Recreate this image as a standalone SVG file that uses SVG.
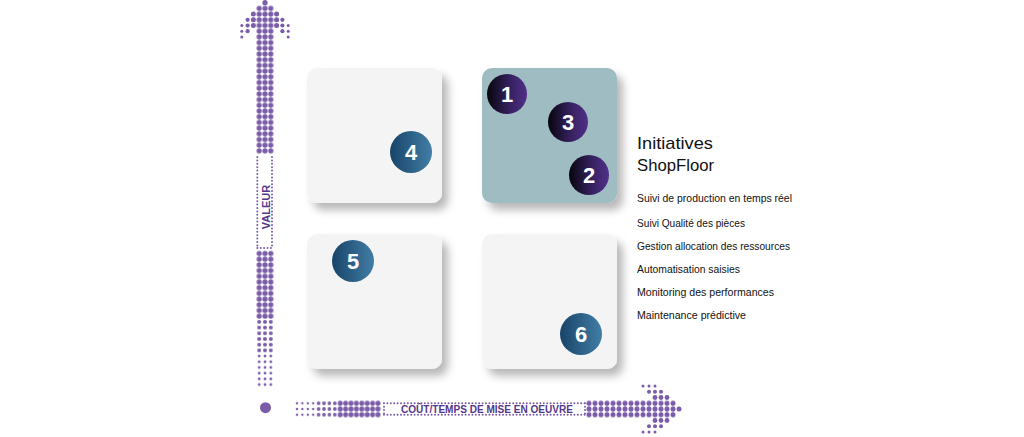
<svg xmlns="http://www.w3.org/2000/svg" width="1024" height="437" viewBox="0 0 1024 437">
<style>
.box{fill:#f4f4f4;filter:url(#sh)}
.num{font-family:"Liberation Sans",Arial,sans-serif;font-weight:bold;font-size:22px;fill:#ffffff;text-anchor:middle}
.title{font-family:"Liberation Sans",Arial,sans-serif;font-size:17px;fill:#111111}
.item{font-family:"Liberation Sans",Arial,sans-serif;font-size:10.5px;fill:#111111}
.axl{font-family:"Liberation Sans",Arial,sans-serif;font-size:11px;font-weight:bold;fill:#54368a}
.d{fill:#7a5ca9}
.dl{fill:none;stroke:#7a5ca9;stroke-width:2;stroke-linecap:round;stroke-dasharray:0 3.4}
</style>
<defs>
<filter id="sh" x="-20%" y="-20%" width="150%" height="150%">
<feDropShadow dx="6" dy="7" stdDeviation="4.5" flood-color="#000" flood-opacity="0.28"/>
</filter>
<linearGradient id="gb" x1="0" y1="0" x2="1" y2="0">
<stop offset="0" stop-color="#184469"/><stop offset="1" stop-color="#427da5"/>
</linearGradient>
<linearGradient id="gp" x1="0" y1="0" x2="1" y2="0">
<stop offset="0" stop-color="#07050c"/><stop offset="0.55" stop-color="#35205e"/><stop offset="1" stop-color="#51308a"/>
</linearGradient>
<pattern id="pv26" patternUnits="userSpaceOnUse" x="256.3" y="5.55" width="5.8" height="5.7"><circle cx="2.9" cy="2.85" r="2.6" class="d"/></pattern>
<pattern id="pv20" patternUnits="userSpaceOnUse" x="256.3" y="5.55" width="5.8" height="5.7"><circle cx="2.9" cy="2.85" r="2.0" class="d"/></pattern>
<pattern id="pv14" patternUnits="userSpaceOnUse" x="256.3" y="5.55" width="5.8" height="5.7"><circle cx="2.9" cy="2.85" r="1.4" class="d"/></pattern>
<pattern id="ph12" patternUnits="userSpaceOnUse" x="294.3" y="400.45" width="5.4" height="5.7"><circle cx="2.7" cy="2.85" r="1.2" class="d"/></pattern>
<pattern id="ph18" patternUnits="userSpaceOnUse" x="294.3" y="400.45" width="5.4" height="5.7"><circle cx="2.7" cy="2.85" r="1.8" class="d"/></pattern>
<pattern id="ph25" patternUnits="userSpaceOnUse" x="294.3" y="400.45" width="5.4" height="5.7"><circle cx="2.7" cy="2.85" r="2.5" class="d"/></pattern>
<pattern id="pr25" patternUnits="userSpaceOnUse" x="670" y="400.45" width="6" height="5.7"><circle cx="3" cy="2.85" r="2.5" class="d"/></pattern>
</defs>
<rect width="1024" height="437" fill="#ffffff"/>

<g id="connectors">
<g id="axis-value">
<circle cx="265" cy="2.7" r="2.6" class="d"/>
<circle cx="253.4" cy="14.1" r="2.5" class="d"/><circle cx="253.4" cy="19.8" r="2.5" class="d"/><circle cx="253.4" cy="25.5" r="2.5" class="d"/>
<circle cx="276.6" cy="14.1" r="2.5" class="d"/><circle cx="276.6" cy="19.8" r="2.5" class="d"/><circle cx="276.6" cy="25.5" r="2.5" class="d"/>
<circle cx="247.6" cy="19.8" r="2.1" class="d"/><circle cx="247.6" cy="25.5" r="2.1" class="d"/><circle cx="247.6" cy="31.2" r="2.1" class="d"/>
<circle cx="282.4" cy="19.8" r="2.1" class="d"/><circle cx="282.4" cy="25.5" r="2.1" class="d"/><circle cx="282.4" cy="31.2" r="2.1" class="d"/>
<circle cx="241.8" cy="25.5" r="1.5" class="d"/><circle cx="241.8" cy="31.2" r="1.5" class="d"/><circle cx="241.8" cy="36.9" r="1.5" class="d"/>
<circle cx="288.2" cy="25.5" r="1.5" class="d"/><circle cx="288.2" cy="31.2" r="1.5" class="d"/><circle cx="288.2" cy="36.9" r="1.5" class="d"/>
<rect x="256.3" y="5.55" width="17.4" height="148.2" fill="url(#pv26)"/>
<path class="dl" d="M257.3 157 V248 M272 157 V248 M257.3 248 H272"/>
<text class="axl" text-anchor="middle" transform="rotate(-90 265.5 207)" x="265.5" y="211">VALEUR</text>
<rect x="256.3" y="250.65" width="17.4" height="68.4" fill="url(#pv26)"/>
<rect x="256.3" y="319.05" width="17.4" height="34.2" fill="url(#pv20)"/>
<rect x="256.3" y="353.25" width="17.4" height="34.2" fill="url(#pv14)"/>
<circle cx="265.5" cy="407.7" r="5.5" class="d"/>
</g>
<g id="axis-cost">
<rect x="294.3" y="400.45" width="21.6" height="17.1" fill="url(#ph12)"/>
<rect x="315.9" y="400.45" width="21.6" height="17.1" fill="url(#ph18)"/>
<rect x="337.5" y="400.45" width="43.2" height="17.1" fill="url(#ph25)"/>
<path class="dl" d="M384 403.3 H585 M384 414.7 H585 M384 403.3 V414.7 M585 403.3 V414.7"/>
<text class="axl" x="487" y="413.3" text-anchor="middle" textLength="172" lengthAdjust="spacingAndGlyphs">COÛT/TEMPS DE MISE EN OEUVRE</text>
<rect x="586" y="400.45" width="90" height="17.1" fill="url(#pr25)"/>
<circle cx="679" cy="409" r="2.5" class="d"/>
<circle cx="667" cy="397.5" r="2.4" class="d"/><circle cx="661" cy="397.5" r="2.4" class="d"/><circle cx="655" cy="397.5" r="2.4" class="d"/>
<circle cx="667" cy="420.5" r="2.4" class="d"/><circle cx="661" cy="420.5" r="2.4" class="d"/><circle cx="655" cy="420.5" r="2.4" class="d"/>
<circle cx="661" cy="391.8" r="2.0" class="d"/><circle cx="655" cy="391.8" r="2.0" class="d"/><circle cx="649" cy="391.8" r="2.0" class="d"/>
<circle cx="661" cy="426.2" r="2.0" class="d"/><circle cx="655" cy="426.2" r="2.0" class="d"/><circle cx="649" cy="426.2" r="2.0" class="d"/>
<circle cx="655" cy="386" r="1.5" class="d"/><circle cx="649" cy="386" r="1.5" class="d"/><circle cx="643" cy="386" r="1.5" class="d"/>
<circle cx="655" cy="432" r="1.5" class="d"/><circle cx="649" cy="432" r="1.5" class="d"/><circle cx="643" cy="432" r="1.5" class="d"/>
</g>
</g>

<g id="quadrant-top-left">
<rect class="box" x="307" y="68" width="135" height="135" rx="10"/>
<circle cx="411" cy="152" r="21" fill="url(#gb)"/>
<text class="num" x="411" y="160">4</text>
</g>
<g id="quadrant-top-right">
<rect class="box" x="482" y="68" width="135" height="135" rx="10" style="fill:#9ebcc2"/>
<circle cx="507" cy="94" r="20" fill="url(#gp)"/>
<text class="num" x="507" y="102">1</text>
<circle cx="568" cy="122" r="20" fill="url(#gp)"/>
<text class="num" x="568" y="130">3</text>
<circle cx="589" cy="175" r="20" fill="url(#gp)"/>
<text class="num" x="589" y="183">2</text>
</g>
<g id="quadrant-bottom-left">
<rect class="box" x="307" y="234" width="135" height="135" rx="10"/>
<circle cx="353" cy="261" r="21" fill="url(#gb)"/>
<text class="num" x="353" y="269">5</text>
</g>
<g id="quadrant-bottom-right">
<rect class="box" x="482" y="234" width="135" height="135" rx="10"/>
<circle cx="581" cy="334" r="21" fill="url(#gb)"/>
<text class="num" x="581" y="342">6</text>
</g>

<g id="legend">
<text class="title" x="637" y="149" textLength="76" lengthAdjust="spacingAndGlyphs">Initiatives</text>
<text class="title" x="637" y="171" textLength="77" lengthAdjust="spacingAndGlyphs">ShopFloor</text>
<text class="item" x="637" y="202" textLength="155" lengthAdjust="spacingAndGlyphs">Suivi de production en temps réel</text>
<text class="item" x="637" y="227" textLength="108" lengthAdjust="spacingAndGlyphs">Suivi Qualité des pièces</text>
<text class="item" x="637" y="250" textLength="153" lengthAdjust="spacingAndGlyphs">Gestion allocation des ressources</text>
<text class="item" x="637" y="273" textLength="103" lengthAdjust="spacingAndGlyphs">Automatisation saisies</text>
<text class="item" x="637" y="296" textLength="137" lengthAdjust="spacingAndGlyphs">Monitoring des performances</text>
<text class="item" x="637" y="319" textLength="109" lengthAdjust="spacingAndGlyphs">Maintenance prédictive</text>
</g>
</svg>
